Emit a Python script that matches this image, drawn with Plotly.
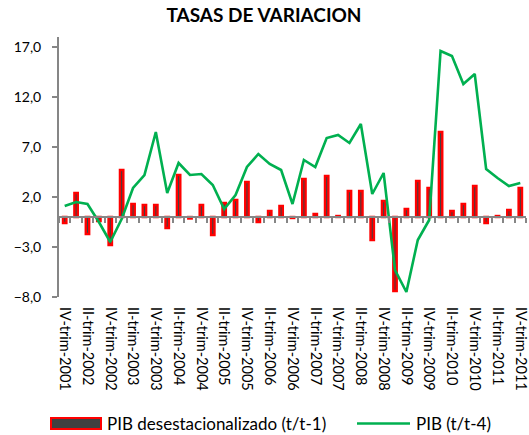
import plotly.graph_objects as go

quarters = []
for yr in range(2001, 2012):
    for q in ["I", "II", "III", "IV"]:
        quarters.append(f"{q}-trim-{yr}")
quarters = quarters[3:]  # IV-trim-2001 .. IV-trim-2011

pib_qoq = [-0.6, 2.4, -1.7, -0.4, -2.8, 4.7, 1.3, 1.2, 1.2, -1.1,
           4.2, -0.15, 1.2, -1.8, 1.4, 1.7, 3.5, -0.5, 0.6, 1.1,
           -0.1, 3.8, 0.3, 4.1, 0.1, 2.6, 2.6, -2.3, 1.6, -7.4,
           0.8, 3.6, 2.9, 8.5, 0.6, 1.3, 3.1, -0.6, 0.1, 0.7, 2.9]

pib_yoy = [1.1, 1.5, 1.3, -0.5, -2.5, -0.2, 2.9, 4.2, 8.5, 2.4,
           5.4, 4.2, 4.3, 3.2, 0.8, 2.2, 5.0, 6.3, 5.3, 4.7,
           1.3, 5.7, 5.0, 7.9, 8.2, 7.4, 9.3, 2.3, 4.4, -5.3,
           -7.5, -2.3, -0.3, 16.6, 16.1, 13.3, 14.3, 4.8, 3.9, 3.1, 3.4]

label_ticks = quarters[::2]
y_ticks = [-8, -3, 2, 7, 12, 17]

FONT = "Lato"
GRAY = "#868686"
RED = "#FF0000"
DARK = "#404040"
GREEN = "#00B050"

W, H = 529, 435
PL, PR, PT, PB = 59, 526, 37, 296.7   # plot area in pixels
L, R, T, B = PL, W - PR, PT, H - PB
pw = PR - PL
ph = PB - PT
ymin, ymax = -8, 18

def px2paper_x(px):
    return (px - PL) / pw

def px2paper_y(py):
    return (PB - py) / ph

fig = go.Figure()
fig.add_trace(go.Bar(
    x=quarters, y=pib_qoq, name="PIB desestacionalizado (t/t-1)",
    marker=dict(color=DARK, line=dict(color=RED, width=2.4)),
    width=0.3, xaxis="x", yaxis="y", showlegend=False,
))
fig.add_trace(go.Scatter(
    x=quarters, y=pib_yoy, name="PIB (t/t-4)", mode="lines",
    line=dict(color=GREEN, width=2.6), xaxis="x2", yaxis="y",
    showlegend=False,
))

fig.update_layout(
    width=W, height=H,
    margin=dict(l=L, r=R, t=T, b=B, autoexpand=False),
    paper_bgcolor="white", plot_bgcolor="white",
    separators=",.",
    font=dict(family=FONT, size=14, color="black"),
    title=dict(text="<b>TASAS DE VARIACION</b>", x=264 / W,
               y=1 - 15 / H,
               xanchor="center", yanchor="middle",
               font=dict(family=FONT, size=19, color="black")),
    xaxis=dict(
        type="category", categoryorder="array", categoryarray=quarters,
        tickmode="array", tickvals=label_ticks, ticktext=label_ticks,
        tickangle=90, ticks="", showline=False, showgrid=False,
        zeroline=False, tickfont=dict(family=FONT, size=14.5),
        ticklabelstandoff=9, range=[-0.5, len(quarters) - 0.5],
        automargin=False,
    ),
    xaxis2=dict(
        type="category", categoryorder="array", categoryarray=quarters,
        overlaying="x", anchor="free",
        position=(0 - ymin) / (ymax - ymin),
        showticklabels=False, ticks="outside", ticklen=5, tickwidth=1.5,
        tickcolor=GRAY, tickson="boundaries", dtick=1,
        showline=True, linecolor=GRAY, linewidth=2,
        showgrid=False, zeroline=False,
        range=[-0.5, len(quarters) - 0.5],
    ),
    yaxis=dict(
        range=[ymin, ymax], tickmode="array", tickvals=y_ticks,
        tickformat=".1f", ticks="outside", ticklen=5, tickwidth=1.5,
        tickcolor=GRAY, showline=True, linecolor=GRAY, linewidth=2,
        showgrid=False, zeroline=False,
        tickfont=dict(family=FONT, size=14), ticklabelstandoff=8,
        automargin=False,
    ),
    showlegend=False,
)

# custom legend (positions in pixels)
ly = 423
fig.add_shape(type="rect", xref="paper", yref="paper",
              x0=px2paper_x(51), x1=px2paper_x(101),
              y0=px2paper_y(ly + 5.5), y1=px2paper_y(ly - 5.5),
              fillcolor=DARK, line=dict(color=RED, width=2))
fig.add_annotation(text="PIB desestacionalizado (t/t-1)", xref="paper", yref="paper",
                   x=px2paper_x(105), y=px2paper_y(ly), xanchor="left",
                   yanchor="middle", showarrow=False,
                   font=dict(family=FONT, size=17, color="black"))
fig.add_shape(type="line", xref="paper", yref="paper",
              x0=px2paper_x(357), x1=px2paper_x(410),
              y0=px2paper_y(ly), y1=px2paper_y(ly),
              line=dict(color=GREEN, width=2.6))
fig.add_annotation(text="PIB (t/t-4)", xref="paper", yref="paper",
                   x=px2paper_x(414), y=px2paper_y(ly), xanchor="left",
                   yanchor="middle", showarrow=False,
                   font=dict(family=FONT, size=17, color="black"))

fig.write_html(
    "out.html",
    config={"displayModeBar": False},
    post_script="document.body.style.margin='0';document.body.style.overflow='hidden';",
)
